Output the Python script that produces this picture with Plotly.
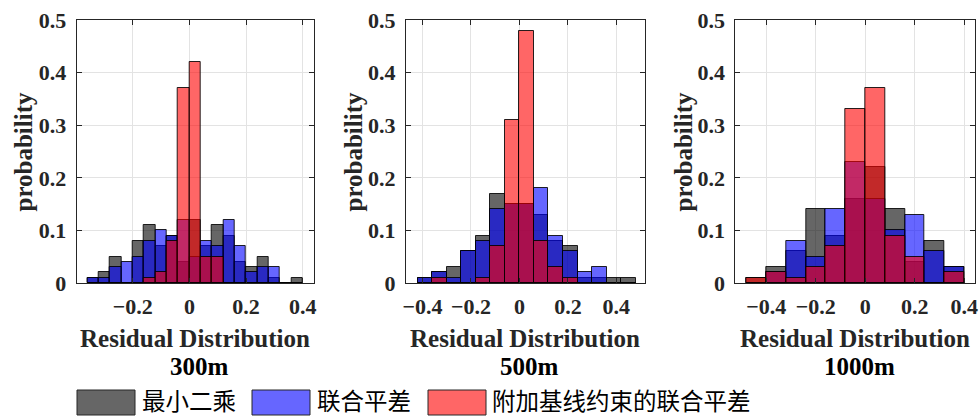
import plotly.graph_objects as go

# ---------------- data ----------------
series_names = ["最小二乘", "联合平差", "附加基线约束的联合平差"]
panel_titles = ["300m", "500m", "1000m"]

# bin layout per panel: first edge, bin width
bin_start = [-0.36, -0.42, -0.48]
bin_width = [0.04, 0.06, 0.08]

# 300m  (19 bins from -0.36 to 0.40)
ls_300 = [0.01, 0.02, 0.05, 0.00, 0.08, 0.11, 0.07, 0.09, 0.04, 0.12, 0.07, 0.11, 0.09, 0.04, 0.03, 0.05, 0.01, 0.00, 0.01]
joint_300 = [0.01, 0.01, 0.03, 0.04, 0.05, 0.08, 0.10, 0.09, 0.12, 0.05, 0.08, 0.07, 0.12, 0.07, 0.02, 0.03, 0.03, 0.00, 0.00]
base_300 = [0.00, 0.00, 0.00, 0.00, 0.00, 0.01, 0.02, 0.08, 0.37, 0.42, 0.05, 0.05, 0.00, 0.00, 0.00, 0.00, 0.00, 0.00, 0.00]

# 500m  (15 bins from -0.42 to 0.48)
ls_500 = [0.01, 0.02, 0.03, 0.06, 0.09, 0.17, 0.15, 0.15, 0.13, 0.08, 0.07, 0.01, 0.01, 0.01, 0.01]
joint_500 = [0.01, 0.02, 0.01, 0.06, 0.08, 0.14, 0.15, 0.15, 0.18, 0.09, 0.06, 0.02, 0.03, 0.00, 0.00]
base_500 = [0.00, 0.01, 0.00, 0.00, 0.01, 0.07, 0.31, 0.48, 0.08, 0.03, 0.01, 0.00, 0.00, 0.00, 0.00]

# 1000m (11 bins from -0.48 to 0.40)
ls_1000 = [0.01, 0.03, 0.06, 0.14, 0.09, 0.16, 0.22, 0.14, 0.04, 0.08, 0.03]
joint_1000 = [0.00, 0.02, 0.08, 0.05, 0.14, 0.23, 0.16, 0.10, 0.13, 0.06, 0.03]
base_1000 = [0.01, 0.02, 0.01, 0.03, 0.07, 0.33, 0.37, 0.09, 0.05, 0.00, 0.02]

panels = [
    [ls_300, joint_300, base_300],
    [ls_500, joint_500, base_500],
    [ls_1000, joint_1000, base_1000],
]

x_ranges = [[-0.398, 0.44], [-0.468, 0.517], [-0.525, 0.442]]
y_range = [0, 0.5]

fill_colors = ["rgba(0,0,0,0.6)", "rgba(0,0,255,0.6)", "rgba(255,0,0,0.6)"]
swatch_colors = ["#666666", "#6666ff", "#ff6666"]

# ---------------- layout geometry (pixels) ----------------
W, H = 979, 417
plot_left = [76.7, 406.0, 735.3]
plot_right = [314.0, 644.7, 974.7]
plot_top, plot_bottom = 20.0, 283.0
ytitle_x = [23, 353, 683]

def px(x):
    return x / W

def py(y):
    return 1 - y / H

fig = go.Figure()
serif = "Liberation Serif"
axis_col = "#262626"

for p in range(3):
    n = len(panels[p][0])
    centers = [bin_start[p] + bin_width[p] * (i + 0.5) for i in range(n)]
    xa = "x" if p == 0 else f"x{p+1}"
    ya = "y" if p == 0 else f"y{p+1}"
    for s in range(3):
        fig.add_trace(go.Bar(
            x=centers, y=panels[p][s], width=bin_width[p],
            marker=dict(color=fill_colors[s], line=dict(color="rgba(0,0,0,0.85)", width=1)),
            name=series_names[s], showlegend=False, xaxis=xa, yaxis=ya,
        ))
    axcommon = dict(
        showline=True, linecolor=axis_col, linewidth=1, mirror="allticks",
        ticks="inside", ticklen=5, tickcolor=axis_col, automargin=False,
        showgrid=True, gridcolor="#e3e3e3", gridwidth=1, zeroline=False,
        tickfont=dict(family=serif, size=22, color=axis_col, weight="bold"),
    )
    xkey = "xaxis" if p == 0 else f"xaxis{p+1}"
    ykey = "yaxis" if p == 0 else f"yaxis{p+1}"
    fig.update_layout(**{
        xkey: dict(domain=[px(plot_left[p]), px(plot_right[p])], range=x_ranges[p],
                   anchor=ya, tickmode="linear", tick0=0, dtick=0.2,
                   ticklabelstandoff=4, **axcommon),
        ykey: dict(domain=[py(plot_bottom), py(plot_top)], range=y_range,
                   anchor=xa, tickmode="linear", tick0=0, dtick=0.1,
                   ticklabelstandoff=5, **axcommon),
    })
    cx = px((plot_left[p] + plot_right[p]) / 2)
    fig.add_annotation(text="Residual Distribution", x=cx, y=py(338), xref="paper", yref="paper",
                       showarrow=False, xanchor="center", yanchor="middle",
                       font=dict(family=serif, size=25, color=axis_col, weight="bold"))
    fig.add_annotation(text=panel_titles[p], x=cx + px(4), y=py(366), xref="paper", yref="paper",
                       showarrow=False, xanchor="center", yanchor="middle",
                       font=dict(family=serif, size=25, color="#000000", weight="bold"))
    fig.add_annotation(text="probability", x=px(ytitle_x[p]), y=py((plot_top + plot_bottom) / 2),
                       xref="paper", yref="paper", showarrow=False, textangle=-90,
                       xanchor="center", yanchor="middle",
                       font=dict(family=serif, size=25, color=axis_col, weight="bold"))

# custom legend (large swatches)
legend_box_x = [77, 252, 428]
legend_text_x = [140, 315, 490]
for s in range(3):
    fig.add_shape(type="rect", xref="paper", yref="paper",
                  x0=px(legend_box_x[s]), x1=px(legend_box_x[s] + 58),
                  y0=py(415), y1=py(390),
                  fillcolor=swatch_colors[s], line=dict(color="#262626", width=1))
    fig.add_annotation(text=series_names[s], x=px(legend_text_x[s]), y=py(400),
                       xref="paper", yref="paper", showarrow=False,
                       xanchor="left", yanchor="middle",
                       font=dict(family="Noto Sans CJK SC", size=23.5, color="#000000"))

fig.update_layout(
    width=W, height=H, margin=dict(l=0, r=0, t=0, b=0, autoexpand=False),
    paper_bgcolor="white", plot_bgcolor="white",
    barmode="overlay", bargap=0, showlegend=False,
)

fig.write_html("out.html", config={"displayModeBar": False},
               post_script="document.body.style.margin='0px';document.body.style.overflow='hidden';")
